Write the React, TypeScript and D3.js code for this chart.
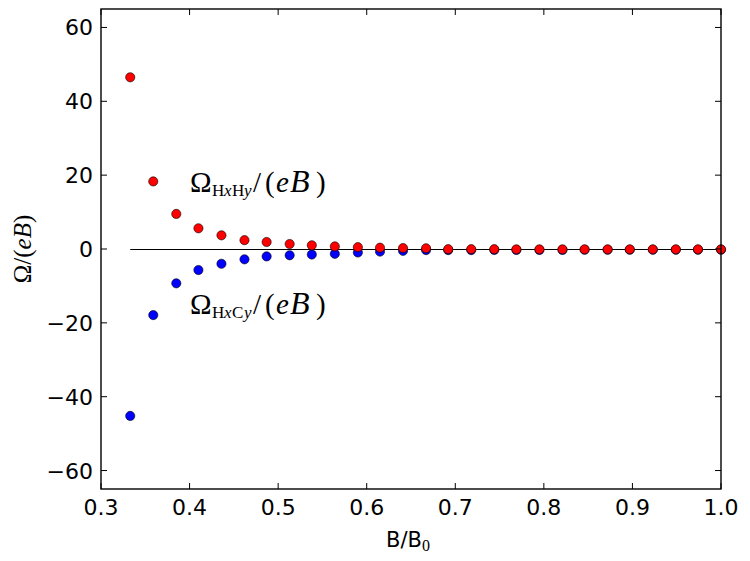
import React from "react";
import * as d3 from "d3";

// B/B0 values (x) and the two Omega/(eB) series
const bRatio = [
  0.333, 0.359, 0.385, 0.41, 0.436, 0.462, 0.487, 0.513, 0.538, 0.564, 0.59, 0.615, 0.641, 0.667,
  0.692, 0.718, 0.744, 0.769, 0.795, 0.821, 0.846, 0.872, 0.897, 0.923, 0.949, 0.974, 1.0,
];
const omegaHxHy = [
  46.5, 18.3, 9.5, 5.6, 3.7, 2.4, 1.9, 1.35, 1.0, 0.7, 0.5, 0.35, 0.25, 0.2, -0.05, -0.05, -0.05,
  -0.1, -0.1, -0.1, -0.1, -0.1, -0.1, -0.1, -0.1, -0.1, -0.1,
];
const omegaHxCy = [
  -45.2, -17.9, -9.3, -5.7, -4.0, -2.8, -2.0, -1.7, -1.5, -1.3, -0.95, -0.7, -0.5, -0.3, -0.3, -0.3,
  -0.25, -0.25, -0.25, -0.25, -0.2, -0.2, -0.2, -0.2, -0.2, -0.2, -0.2,
];
const xTicks = [0.3, 0.4, 0.5, 0.6, 0.7, 0.8, 0.9, 1.0];
const yTicks = [-60, -40, -20, 0, 20, 40, 60];

const W = 750;
const H = 561;
const margin = { top: 9, right: 29, bottom: 72, left: 101 };
const serif = "'Liberation Serif', 'DejaVu Serif', serif";
const sans = "'DejaVu Sans', sans-serif";

// mathtext-ish label: Omega_{H x ? y}/(eB), glyphs placed one by one
const MathLabel = ({ x, y, sub }: { x: number; y: number; sub: [string, string] }) => (
  <text fontFamily={serif} fontSize={29} fill="#000">
    <tspan x={x} y={y}>Ω</tspan>
    <tspan fontSize={17}>
      <tspan x={x + 22} y={y + 4}>{sub[0]}</tspan>
      <tspan x={x + 34} y={y + 4} fontStyle="italic">x</tspan>
      <tspan x={x + 42} y={y + 4}>{sub[1]}</tspan>
      <tspan x={x + 54} y={y + 4} fontStyle="italic">y</tspan>
    </tspan>
    <tspan x={x + 63} y={y}>/</tspan>
    <tspan x={x + 75} y={y}>(</tspan>
    <tspan x={x + 86} y={y} fontStyle="italic">e</tspan>
    <tspan x={x + 100} y={y} fontStyle="italic" fontSize={32}>B</tspan>
    <tspan x={x + 126} y={y}>)</tspan>
  </text>
);

const App = () => {
  const x = d3.scaleLinear().domain([0.3, 1.0]).range([margin.left, W - margin.right]);
  const y = d3.scaleLinear().domain([-65, 65]).range([H - margin.bottom, margin.top]);
  const [x0, x1] = x.range();
  const y0 = y.range()[1];
  const y1 = y.range()[0];
  const tick = 6;

  return (
    <svg
      width={W}
      height={H}
      style={{ position: "absolute", left: 0, top: 0, background: "#fff" }}
    >
      {/* zero line */}
      <line
        x1={x(bRatio[0])}
        x2={x(bRatio[bRatio.length - 1])}
        y1={y(0) + 0.5}
        y2={y(0) + 0.5}
        stroke="#000"
        strokeWidth={1.2}
      />

      {bRatio.map((b, i) => (
        <circle key={"c" + i} cx={x(b)} cy={y(omegaHxCy[i])} r={4.6} fill="#0000ff" stroke="#000" strokeWidth={0.6} />
      ))}
      {bRatio.map((b, i) => (
        <circle key={"h" + i} cx={x(b)} cy={y(omegaHxHy[i])} r={4.6} fill="#ff0000" stroke="#000" strokeWidth={0.6} />
      ))}

      {/* frame */}
      <rect x={x0} y={y0} width={x1 - x0} height={y1 - y0} fill="none" stroke="#000" strokeWidth={1.4} />

      {xTicks.map((t) => (
        <g key={"x" + t}>
          <line x1={x(t)} x2={x(t)} y1={y1} y2={y1 - tick} stroke="#000" />
          <line x1={x(t)} x2={x(t)} y1={y0} y2={y0 + tick} stroke="#000" />
          <text x={x(t)} y={515} textAnchor="middle" fontFamily={sans} fontSize={22}>
            {t.toFixed(1)}
          </text>
        </g>
      ))}
      {yTicks.map((t) => (
        <g key={"y" + t}>
          <line x1={x0} x2={x0 + tick} y1={y(t)} y2={y(t)} stroke="#000" />
          <line x1={x1} x2={x1 - tick} y1={y(t)} y2={y(t)} stroke="#000" />
          <text x={93} y={y(t) + 8} textAnchor="end" fontFamily={sans} fontSize={22}>
            {t < 0 ? "\u2212" + Math.abs(t) : t}
          </text>
        </g>
      ))}

      {/* axis labels */}
      <text x={(x0 + x1) / 2 - 3} y={547} textAnchor="middle" fontFamily={sans} fontSize={21}>
        B/B
        <tspan fontFamily={serif} fontSize={16} dy={4}>
          0
        </tspan>
      </text>
      <text
        transform={`translate(31, ${y(0)}) rotate(-90)`}
        textAnchor="middle"
        fontFamily={serif}
        fontSize={25}
      >
        Ω/(<tspan fontStyle="italic">eB</tspan>)
      </text>

      <MathLabel x={190} y={192} sub={["H", "H"]} />
      <MathLabel x={190} y={314} sub={["H", "C"]} />
    </svg>
  );
};

export default App;
